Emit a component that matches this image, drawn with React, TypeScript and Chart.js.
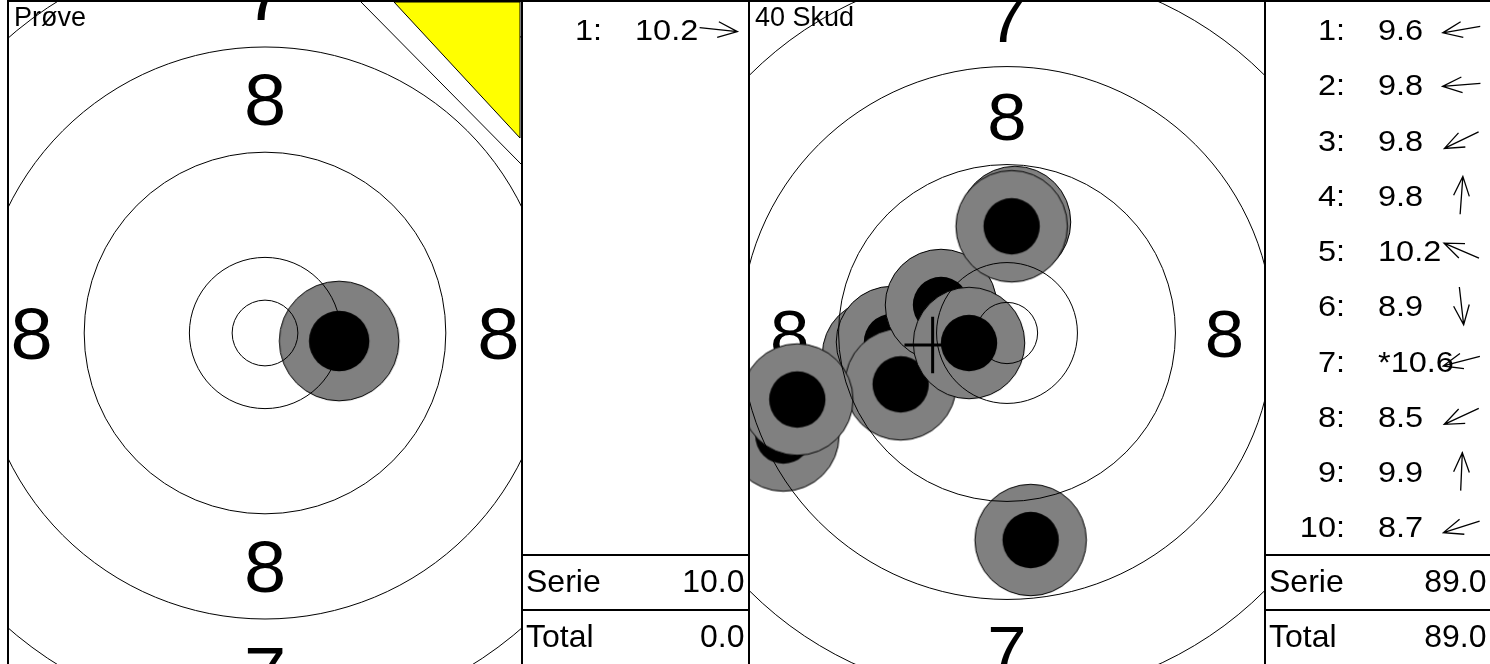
import React, { useEffect, useRef } from "react";
import { Chart, registerables } from "chart.js";

Chart.register(...registerables);

// ---------------- Data ----------------
// Air pistol target ring radii in mm: inner ten, 10, 9, 8, 7, 6
const ringRadiiMm = [2.5, 5.75, 13.75, 21.75, 29.75, 37.75];
// Zone numbers printed on the target and the radius (mm) where they sit
const zoneLabels = ["8", "7"];
const zoneLabelRadiiMm = [17.75, 25.75];

// Sighter series ("Prøve")
const proveTitle = "Prøve";
const proveShotNo = [1];
const proveScore = [10.2];
const proveInnerTen = [false];
const proveX = [5.64]; // mm, right positive
const proveY = [-0.61]; // mm, up positive
const proveSummaryValues = [10.0, 0.0];

// Match series ("40 Skud")
const matchTitle = "40 Skud";
const matchShotNo = [1, 2, 3, 4, 5, 6, 7, 8, 9, 10];
const matchScore = [9.6, 9.8, 9.8, 9.8, 10.2, 8.9, 10.6, 8.5, 9.9, 8.7];
const matchInnerTen = [false, false, false, false, false, false, true, false, false, false];
const matchX = [-10.53, -9.39, -8.68, 0.65, -5.39, 1.93, -3.1, -18.26, 0.38, -17.12];
const matchY = [-1.8, -0.73, -4.19, 9.06, 2.29, -16.9, -0.82, -8.37, 8.71, -5.43];
const matchSummaryValues = [89.0, 89.0];
const matchGroupCenterX = [-6.07];
const matchGroupCenterY = [-0.98];

const summaryLabels = ["Serie", "Total"];

// ---------------- Drawing helpers ----------------
const FONT = '"Liberation Sans", Arial, sans-serif';

function stretchedText(
  ctx: CanvasRenderingContext2D,
  text: string,
  x: number,
  y: number,
  size: number,
  align: CanvasTextAlign,
  sx: number
) {
  ctx.save();
  ctx.font = `${size}px ${FONT}`;
  ctx.textAlign = align;
  ctx.textBaseline = "alphabetic";
  ctx.translate(x, y);
  ctx.scale(sx, 1);
  ctx.fillStyle = "#000";
  ctx.fillText(text, 0, 0);
  ctx.restore();
}

function drawArrow(ctx: CanvasRenderingContext2D, cx: number, cy: number, dx: number, dy: number) {
  const L = Math.hypot(dx, dy) || 1;
  const ux = dx / L;
  const uy = dy / L;
  const half = 19;
  const tx = cx + ux * half;
  const ty = cy + uy * half;
  const sx = cx - ux * half;
  const sy = cy - uy * half;
  const hl = 21;
  const ha = (22 * Math.PI) / 180;
  const ang = Math.atan2(uy, ux);
  ctx.save();
  ctx.strokeStyle = "#000";
  ctx.lineWidth = 1.3;
  ctx.beginPath();
  ctx.moveTo(sx, sy);
  ctx.lineTo(tx, ty);
  ctx.moveTo(tx - hl * Math.cos(ang - ha), ty - hl * Math.sin(ang - ha));
  ctx.lineTo(tx, ty);
  ctx.lineTo(tx - hl * Math.cos(ang + ha), ty - hl * Math.sin(ang + ha));
  ctx.stroke();
  ctx.restore();
}

function makeShotImage(rGray: number, rBlack: number) {
  const size = Math.ceil(rGray) * 2 + 4;
  const c = document.createElement("canvas");
  c.width = size;
  c.height = size;
  const g = c.getContext("2d")!;
  const m = size / 2;
  g.beginPath();
  g.arc(m, m, rGray, 0, Math.PI * 2);
  g.fillStyle = "#808080";
  g.fill();
  g.lineWidth = 1;
  g.strokeStyle = "#000";
  g.stroke();
  g.beginPath();
  g.arc(m, m, rBlack, 0, Math.PI * 2);
  g.fillStyle = "#000";
  g.fill();
  return c;
}

interface PanelCfg {
  width: number;
  height: number;
  padL: number;
  padR: number;
  padT: number;
  ppm: number; // pixels per mm
  cx: number; // target centre, px from chart-area left
  cy: number; // target centre, px from chart-area top
  title: string;
  shotNo: number[];
  score: number[];
  inner: boolean[];
  xs: number[];
  ys: number[];
  summary: number[];
  cross?: { x: number; y: number };
  sighter: boolean;
  listX0: number;
  listX1: number;
  borders: (ctx: CanvasRenderingContext2D) => void;
}

function makeChart(canvas: HTMLCanvasElement, cfg: PanelCfg) {
  const areaW = cfg.width - cfg.padL - cfg.padR;
  const areaH = cfg.height - cfg.padT;
  const xMin = -cfg.cx / cfg.ppm;
  const xMax = (areaW - cfg.cx) / cfg.ppm;
  const yMax = cfg.cy / cfg.ppm;
  const yMin = -(areaH - cfg.cy) / cfg.ppm;
  const rGray = 4.55 * cfg.ppm;
  const rBlack = 2.3 * cfg.ppm;
  const shotImg = makeShotImage(rGray, rBlack);

  const plugin = {
    id: "targetDecor",
    beforeDatasetsDraw(chart: any) {
      const { ctx, chartArea: a, scales } = chart;
      const sx = scales.x;
      const sy = scales.y;
      ctx.save();
      ctx.beginPath();
      ctx.rect(a.left, a.top, a.right - a.left, a.bottom - a.top);
      ctx.clip();
      const fs = 5.5 * cfg.ppm;
      zoneLabels.forEach((lab, i) => {
        const r = zoneLabelRadiiMm[i];
        const pts = [
          [0, r],
          [r, 0],
          [0, -r],
          [-r, 0],
        ];
        pts.forEach(([vx, vy]) => {
          const px = sx.getPixelForValue(vx);
          const py = sy.getPixelForValue(vy);
          stretchedText(ctx, lab, px, py + 0.358 * fs, fs, "center", 1.05);
        });
      });
      ctx.restore();
    },
    afterDatasetsDraw(chart: any) {
      const { ctx, chartArea: a, scales } = chart;
      const sx = scales.x;
      const sy = scales.y;
      ctx.save();
      ctx.beginPath();
      ctx.rect(a.left, a.top, a.right - a.left, a.bottom - a.top);
      ctx.clip();
      const ox = sx.getPixelForValue(0);
      const oy = sy.getPixelForValue(0);
      ctx.strokeStyle = "#000";
      ctx.lineWidth = 1;
      ringRadiiMm.forEach((r) => {
        const rp = sx.getPixelForValue(r) - ox;
        ctx.beginPath();
        ctx.arc(ox, oy, rp, 0, Math.PI * 2);
        ctx.stroke();
      });
      if (cfg.cross) {
        const px = sx.getPixelForValue(cfg.cross.x);
        const py = sy.getPixelForValue(cfg.cross.y);
        const h = 2.3 * cfg.ppm;
        ctx.lineWidth = 3;
        ctx.beginPath();
        ctx.moveTo(px - h, py);
        ctx.lineTo(px + h, py);
        ctx.moveTo(px, py - h);
        ctx.lineTo(px, py + h);
        ctx.stroke();
      }
      // title
      stretchedText(ctx, cfg.title, a.left + 5, a.top + 24, 27, "left", 1.0);
      // sighter triangle
      if (cfg.sighter) {
        const R = a.right;
        const T = a.top;
        ctx.lineWidth = 1;
        ctx.beginPath();
        ctx.moveTo(R - 160, T);
        ctx.lineTo(R, T + 162);
        ctx.stroke();
        ctx.beginPath();
        ctx.moveTo(R - 127, T);
        ctx.lineTo(R - 1, T);
        ctx.lineTo(R - 1, T + 136);
        ctx.closePath();
        ctx.fillStyle = "#ffff00";
        ctx.fill();
        ctx.stroke();
      }
      ctx.restore();
    },
    afterDraw(chart: any) {
      const { ctx } = chart;
      cfg.borders(ctx);
      const x0 = cfg.listX0;
      const x1 = cfg.listX1;
      const rowH = 55.25;
      const top = 2;
      cfg.score.forEach((s, i) => {
        const cyR = top + (i + 0.5) * rowH;
        const base = cyR + 10.5;
        stretchedText(ctx, `${cfg.shotNo[i]}:`, x0 + 79, base, 29, "right", 1.12);
        const v = (cfg.inner[i] ? "*" : "") + s.toFixed(1);
        stretchedText(ctx, v, x0 + 112, base, 29, "left", 1.12);
        drawArrow(ctx, x0 + 195.5, cyR, cfg.xs[i], -cfg.ys[i]);
      });
      ctx.fillStyle = "#000";
      ctx.fillRect(x0, 554, x1 - x0, 2);
      ctx.fillRect(x0, 609, x1 - x0, 2);
      const bases = [591.5, 646.5];
      summaryLabels.forEach((lab, i) => {
        stretchedText(ctx, lab, x0 + 3, bases[i], 32, "left", 1.0);
        stretchedText(ctx, cfg.summary[i].toFixed(1), x1 - 3.5, bases[i], 32, "right", 1.0);
      });
    },
  };

  return new Chart(canvas, {
    type: "scatter",
    data: {
      datasets: [
        {
          data: cfg.xs.map((x, i) => ({ x, y: cfg.ys[i] })),
          pointStyle: shotImg as any,
          pointRadius: rGray,
          pointHoverRadius: rGray,
          clip: 0 as any,
        },
      ],
    },
    options: {
      animation: false,
      responsive: false,
      events: [],
      layout: { autoPadding: false, padding: { left: cfg.padL, right: cfg.padR, top: cfg.padT, bottom: 0 } },
      plugins: { legend: { display: false }, tooltip: { enabled: false } },
      scales: {
        x: { type: "linear", min: xMin, max: xMax, display: false },
        y: { type: "linear", min: yMin, max: yMax, display: false },
      },
    },
    plugins: [plugin as any],
  });
}

export default function App() {
  const leftRef = useRef<HTMLCanvasElement>(null);
  const rightRef = useRef<HTMLCanvasElement>(null);

  useEffect(() => {
    const left: PanelCfg = {
      width: 750,
      height: 664,
      padL: 9,
      padR: 229,
      padT: 2,
      ppm: 13.15,
      cx: 256,
      cy: 331,
      title: proveTitle,
      shotNo: proveShotNo,
      score: proveScore,
      inner: proveInnerTen,
      xs: proveX,
      ys: proveY,
      summary: proveSummaryValues,
      sighter: true,
      listX0: 523,
      listX1: 748,
      borders: (ctx) => {
        ctx.fillStyle = "#000";
        ctx.fillRect(7, 0, 743, 2);
        ctx.fillRect(7, 0, 2, 664);
        ctx.fillRect(521, 0, 2, 664);
        ctx.fillRect(748, 0, 2, 664);
      },
    };
    const right: PanelCfg = {
      width: 740,
      height: 664,
      padL: 0,
      padR: 225,
      padT: 2,
      ppm: 12.25,
      cx: 257,
      cy: 331,
      title: matchTitle,
      shotNo: matchShotNo,
      score: matchScore,
      inner: matchInnerTen,
      xs: matchX,
      ys: matchY,
      summary: matchSummaryValues,
      cross: { x: matchGroupCenterX[0], y: matchGroupCenterY[0] },
      sighter: false,
      listX0: 516,
      listX1: 740,
      borders: (ctx) => {
        ctx.fillStyle = "#000";
        ctx.fillRect(0, 0, 740, 2);
        ctx.fillRect(514, 0, 2, 664);
      },
    };
    const c1 = makeChart(leftRef.current!, left);
    const c2 = makeChart(rightRef.current!, right);
    return () => {
      c1.destroy();
      c2.destroy();
    };
  }, []);

  return (
    <div
      style={{
        position: "absolute",
        left: 0,
        top: 0,
        width: 1490,
        height: 664,
        background: "#ffffff",
        overflow: "hidden",
      }}
    >
      <canvas
        ref={leftRef}
        width={750}
        height={664}
        style={{ position: "absolute", left: 0, top: 0, width: 750, height: 664 }}
      />
      <canvas
        ref={rightRef}
        width={740}
        height={664}
        style={{ position: "absolute", left: 750, top: 0, width: 740, height: 664 }}
      />
    </div>
  );
}
